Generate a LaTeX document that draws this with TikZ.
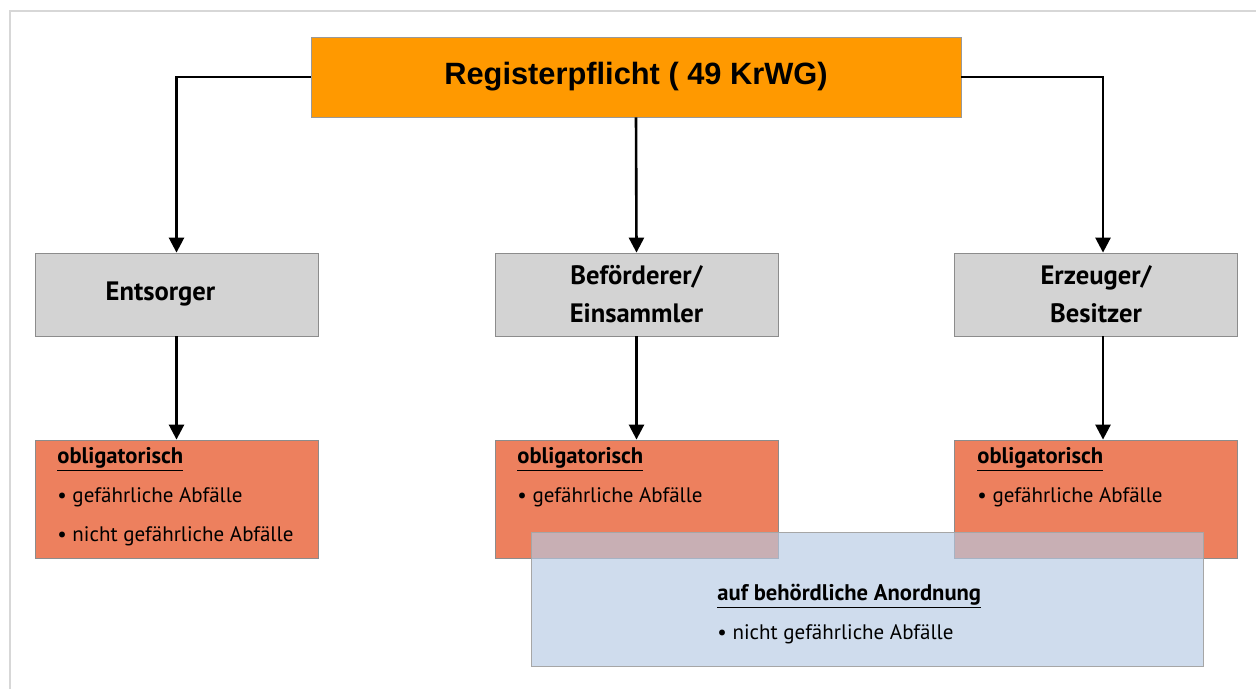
\documentclass[tikz,border=0pt]{standalone}
\usepackage{fontspec}
\setmainfont{PT Sans}
\newfontfamily\titlefont{Liberation Sans}
\usetikzlibrary{arrows.meta}

\definecolor{reg orange}{RGB}{255,153,0}
\definecolor{role gray}{RGB}{211,211,211}
\definecolor{duty red}{RGB}{237,128,94}
\definecolor{order blue}{RGB}{181,201,227}
\definecolor{frame gray}{RGB}{215,215,215}

\tikzstyle{headbox}=[draw=black!40, fill=reg orange, minimum width=325pt, minimum height=40pt, font=\titlefont\fontsize{15.4}{18}\selectfont\bfseries]
\tikzstyle{rolebox}=[draw=black!45, fill=role gray, minimum width=141.5pt, minimum height=41.5pt, align=center, font=\fontsize{13.3}{19}\selectfont\bfseries]
\tikzstyle{dutybox}=[draw=black!45, fill=duty red, minimum width=141.5pt, minimum height=59pt]
\tikzstyle{orderbox}=[draw=black!35, fill=order blue, fill opacity=0.65, minimum width=336pt, minimum height=67pt]
\tikzstyle{listhead}=[anchor=base west, inner sep=0pt, font=\fontsize{11.3}{13}\selectfont\bfseries]
\tikzstyle{listitem}=[anchor=base west, inner sep=0pt, font=\fontsize{10.5}{13}\selectfont]
\tikzstyle{arrow}=[line width=1.3pt, -{Triangle[length=7.5pt,width=7.5pt]}]

\begin{document}
\begin{tikzpicture}[x=0.5pt, y=-0.5pt]
	\useasboundingbox (0,0) rectangle (1256,689);

	% frame
	\draw[frame gray, line width=1pt] (1256,11) -- (10,11) -- (10,689);

	% boxes
	\node[headbox] (reg) at (636,77) {Registerpflicht ( 49 KrWG)};

	\node[rolebox] (ents) at (176.5,294.5) {Entsorger\hspace{16pt}};
	\node[rolebox] (befo) at (636.5,294.5) {Beförderer/\\Einsammler};
	\node[rolebox] (erze) at (1096,294.5) {Erzeuger/\\Besitzer};

	\node[dutybox] (duty1) at (176.5,499) {};
	\node[dutybox] (duty2) at (636.5,499) {};
	\node[dutybox] (duty3) at (1096,499) {};

	\foreach \n/\x in {1/57, 2/517, 3/977}{
		\node[listhead] (obl\n) at (\x,463) {\underline{obligatorisch}};
		\node[listitem] (haz\n) at (\x,502) {\textbullet\ gefährliche Abfälle};
	}
	\node[listitem] (nhaz1) at (57,541) {\textbullet\ nicht gefährliche Abfälle};

	% order box on top
	\node[orderbox] (order) at (867,599) {};
	\node[listhead] (ordh) at (717,600) {\underline{auf behördliche Anordnung}};
	\node[listitem] (ordi) at (717,639) {\textbullet\ nicht gefährliche Abfälle};

	% connectors
	\coordinate (rcol) at (1103,0);
	\draw[arrow] (reg.west) -| (ents.north);
	\draw[arrow] (reg.south) -- (befo.north);
	\draw[arrow] (reg.east) -| (rcol |- erze.north);

	\draw[arrow] (ents.south) -- (duty1.north);
	\draw[arrow] (befo.south) -- (duty2.north);
	\draw[arrow] (rcol |- erze.south) -- (rcol |- duty3.north);
\end{tikzpicture}
\end{document}
